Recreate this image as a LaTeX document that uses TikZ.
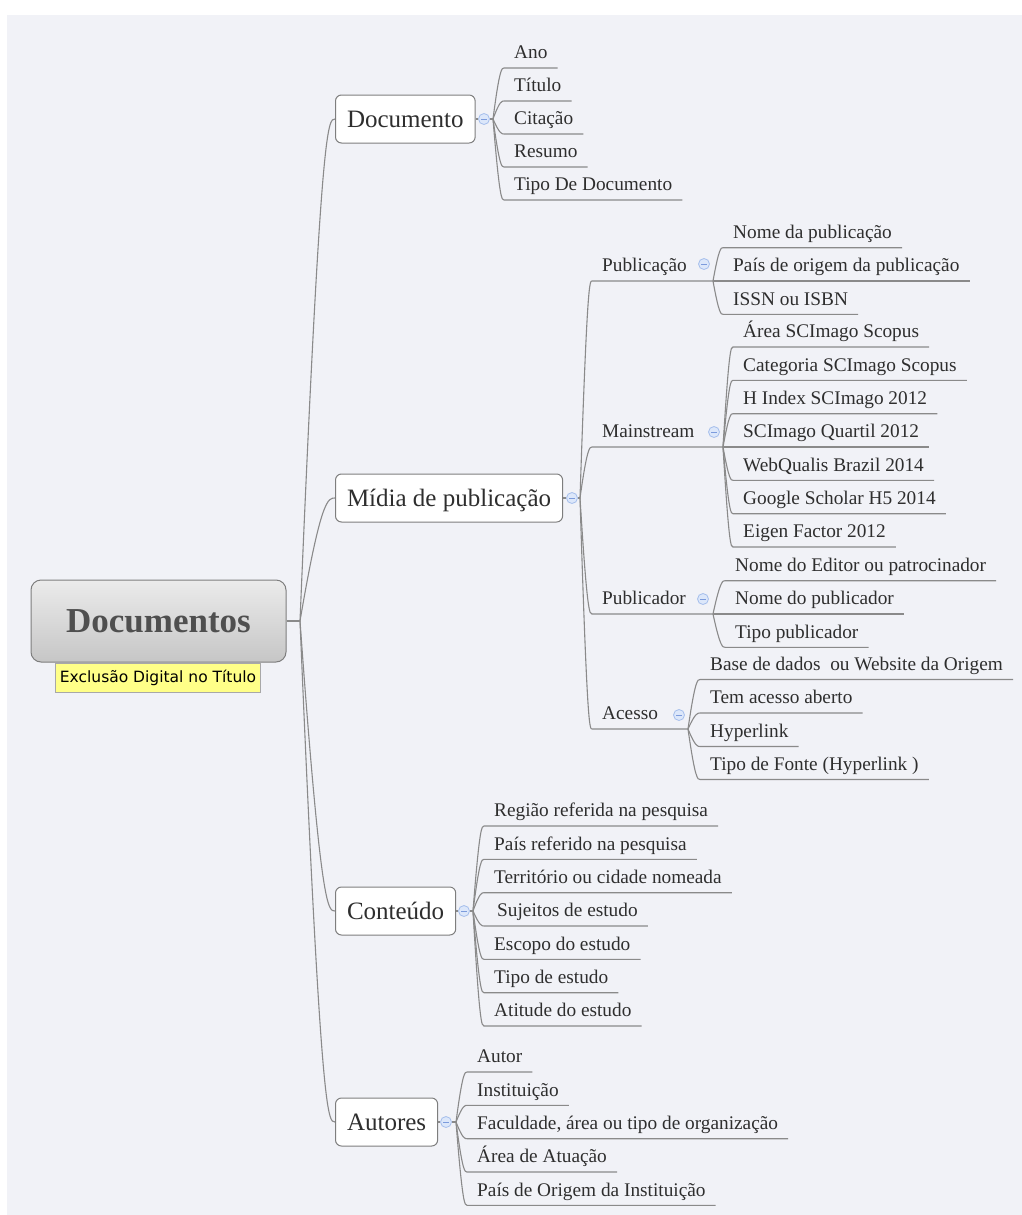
\documentclass[tikz,border=0pt]{standalone}
\usepackage{fontspec}
\setmainfont{Liberation Serif}
\newfontfamily\notefont{DejaVu Sans}
\usetikzlibrary{calc}

\definecolor{bg}{HTML}{F1F2F7}
\definecolor{linec}{HTML}{8A8A8A}
\definecolor{txt}{HTML}{2E2E2E}
\definecolor{boxline}{HTML}{7E7E7E}
\definecolor{foldfill}{HTML}{DCE7FA}
\definecolor{folddraw}{HTML}{A6BFEC}
\definecolor{foldmark}{HTML}{7C9BDC}
\definecolor{notefill}{HTML}{FFFF88}
\definecolor{notedraw}{HTML}{A8A8A8}
\definecolor{roottext}{HTML}{4F4F4F}
\definecolor{roottop}{HTML}{EBEBEB}
\definecolor{rootbottom}{HTML}{C6C6C6}

% curved connector from a joint to a point, ending horizontally
\newcommand{\bend}[2]{($(#1 |- #2)!0.6!(#2)$) and ($(#1 |- #2)!0.8!(#2)$)}
% trunk: joint to the west side of a topic box
\newcommand{\trunk}[2]{\draw[conn] (#1) .. controls \bend{#1}{#2.west} .. (#2.west);}
% leaf: curve to the start of the underline, then the underline
\newcommand{\hang}[2]{\draw[conn] (#1) .. controls \bend{#1}{#2.south west} .. (#2.south west) -- (#2.south east);}
% subtopic: curve, then underline running on to its own joint
\newcommand{\hangsub}[3]{\draw[conn] (#1) .. controls \bend{#1}{#2.south west} .. (#2.south west) -- (#3);}

\begin{document}
\begin{tikzpicture}[x=1pt,y=1pt,
  conn/.style={draw=linec, line width=1.1pt},
  leaf/.style={font=\fontsize{19.3}{23}\selectfont, text=txt, inner xsep=10pt, inner ysep=0pt,
    text height=13pt, text depth=9pt, anchor=south west},
  mainbox/.style={draw=boxline, fill=white, rounded corners=6pt, line width=1pt,
    font=\fontsize{25}{30}\selectfont, text=txt, anchor=west, minimum height=48pt,
    inner xsep=11.5pt, inner ysep=0pt, text height=18pt, text depth=2pt},
  rootbox/.style={draw=boxline, line width=1pt, rounded corners=10pt, top color=roottop,
    bottom color=rootbottom, minimum width=255pt, minimum height=82pt, inner sep=0pt,
    font=\fontsize{35}{40}\selectfont\bfseries, text=roottext, text height=25pt, text depth=1.6pt},
  note/.style={fill=notefill, draw=notedraw, line width=0.8pt, minimum width=205pt,
    minimum height=29pt, inner sep=0pt, font=\notefont\fontsize{15.5}{18}\selectfont, text=black},
  fold/.style={circle, draw=folddraw, fill=foldfill, line width=0.8pt, minimum size=11pt,
    inner sep=0pt, path picture={\draw[foldmark, line width=0.9pt]
      ([xshift=-2.6pt]path picture bounding box.center) --
      ([xshift=2.6pt]path picture bounding box.center);}}
]
\useasboundingbox (0,0) rectangle (1022,-1215);
\fill[white] (0,0) rectangle (1022,-1215);
\fill[bg] (7,-15) rectangle (1022,-1215);

% ---------- central topic ----------
\node[rootbox] (root) at (158.5,-621) {Documentos};
\node[note] (note) at (158,-677.5) {Exclusão Digital no Título};
\coordinate (rootj) at (300,-621);

% ---------- main topics ----------
\node[mainbox] (doc) at (335,-119) {Documento};
\node[mainbox] (mid) at (335,-498) {Mídia de publicação};
\node[mainbox] (con) at (335,-911) {Conteúdo};
\node[mainbox] (aut) at (335,-1122) {Autores};

\draw[conn] (root.east) -- (rootj);
\trunk{rootj}{doc}
\trunk{rootj}{mid}
\trunk{rootj}{con}
\trunk{rootj}{aut}

% ---------- Documento ----------
\node[fold] (fdoc) at (484,-119) {};
\coordinate (jdoc) at (493,-119);
\draw[conn] (doc) -- (fdoc);
\draw[conn] (fdoc) -- (jdoc);
\node[leaf] (d1) at (504,-68) {Ano};
\node[leaf] (d2) at (504,-101) {Título};
\node[leaf] (d3) at (504,-134) {Citação};
\node[leaf] (d4) at (504,-167) {Resumo};
\node[leaf] (d5) at (504,-200) {Tipo De Documento};
\foreach \n in {d1,d2,d3,d4,d5} {\hang{jdoc}{\n}}

% ---------- Mídia de publicação ----------
\node[fold] (fmid) at (572,-498) {};
\coordinate (jmid) at (580,-498);
\draw[conn] (mid) -- (fmid);
\draw[conn] (fmid) -- (jmid);

\node[leaf] (s1) at (592,-281) {Publicação};
\node[leaf] (s2) at (592,-447) {Mainstream};
\node[leaf] (s3) at (592,-614) {Publicador};
\node[leaf] (s4) at (592,-729) {Acesso};
\coordinate (jpub) at (713,-281);
\coordinate (jmain) at (723,-447);
\coordinate (jpubl) at (713,-614);
\coordinate (jaces) at (688,-729);
\hangsub{jmid}{s1}{jpub}
\hangsub{jmid}{s2}{jmain}
\hangsub{jmid}{s3}{jpubl}
\hangsub{jmid}{s4}{jaces}
\node[fold] (fpub) at (704,-264) {};
\node[fold] (fmain) at (714,-432) {};
\node[fold] (fpubl) at (703,-599) {};
\node[fold] (faces) at (679,-715) {};

% Publicação
\node[leaf] (p1) at (723,-247.7) {Nome da publicação};
\node[leaf] (p2) at (723,-281) {País de origem da publicação};
\node[leaf] (p3) at (723,-314.3) {ISSN ou ISBN};
\foreach \n in {p1,p2,p3} {\hang{jpub}{\n}}

% Mainstream
\node[leaf] (m1) at (733,-347) {Área SCImago Scopus};
\node[leaf] (m2) at (733,-380.3) {Categoria SCImago Scopus};
\node[leaf] (m3) at (733,-413.7) {H Index SCImago 2012};
\node[leaf] (m4) at (733,-447) {SCImago Quartil 2012};
\node[leaf] (m5) at (733,-480.3) {WebQualis Brazil 2014};
\node[leaf] (m6) at (733,-513.7) {Google Scholar H5 2014};
\node[leaf] (m7) at (733,-547) {Eigen Factor 2012};
\foreach \n in {m1,m2,m3,m4,m5,m6,m7} {\hang{jmain}{\n}}

% Publicador
\node[leaf] (b1) at (725,-580.7) {Nome do Editor ou patrocinador};
\node[leaf] (b2) at (725,-614) {Nome do publicador};
\node[leaf] (b3) at (725,-647.3) {Tipo publicador};
\foreach \n in {b1,b2,b3} {\hang{jpubl}{\n}}

% Acesso
\node[leaf] (a1) at (700,-679.5) {Base de dados\ \ ou Website da Origem};
\node[leaf] (a2) at (700,-713) {Tem acesso aberto};
\node[leaf] (a3) at (700,-746.5) {Hyperlink};
\node[leaf] (a4) at (700,-779.5) {Tipo de Fonte (Hyperlink )};
\foreach \n in {a1,a2,a3,a4} {\hang{jaces}{\n}}

% ---------- Conteúdo ----------
\node[fold] (fcon) at (464,-911) {};
\coordinate (jcon) at (473,-911);
\draw[conn] (con) -- (fcon);
\draw[conn] (fcon) -- (jcon);
\node[leaf] (c1) at (484,-826) {Região referida na pesquisa};
\node[leaf] (c2) at (484,-859.3) {País referido na pesquisa};
\node[leaf] (c3) at (484,-892.7) {Território ou cidade nomeada};
\node[leaf] (c4) at (484,-926) {\hspace{3pt}Sujeitos de estudo};
\node[leaf] (c5) at (484,-959.3) {Escopo do estudo};
\node[leaf] (c6) at (484,-992.7) {Tipo de estudo};
\node[leaf] (c7) at (484,-1026) {Atitude do estudo};
\foreach \n in {c1,c2,c3,c4,c5,c6,c7} {\hang{jcon}{\n}}

% ---------- Autores ----------
\node[fold] (faut) at (446,-1122) {};
\coordinate (jaut) at (456,-1122);
\draw[conn] (aut) -- (faut);
\draw[conn] (faut) -- (jaut);
\node[leaf] (u1) at (467,-1072) {Autor};
\node[leaf] (u2) at (467,-1105.3) {Instituição};
\node[leaf] (u3) at (467,-1138.7) {Faculdade, área ou tipo de organização};
\node[leaf] (u4) at (467,-1172) {Área de Atuação};
\node[leaf] (u5) at (467,-1205.3) {País de Origem da Instituição};
\foreach \n in {u1,u2,u3,u4,u5} {\hang{jaut}{\n}}
\end{tikzpicture}
\end{document}
